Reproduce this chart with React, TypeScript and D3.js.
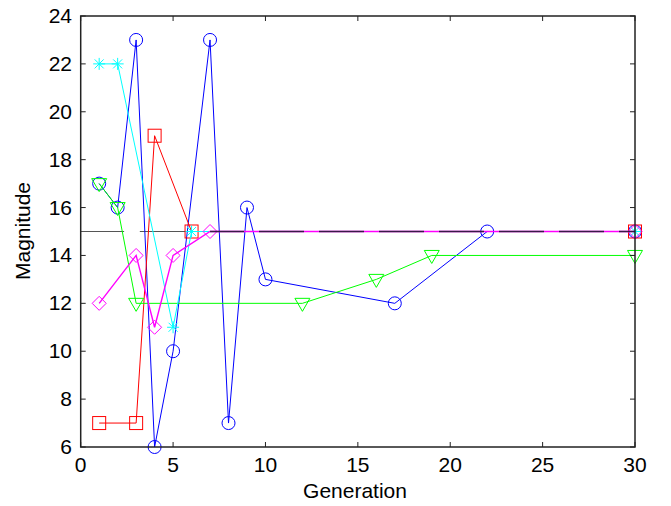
import React from "react";
import * as d3 from "d3";

const blueX = [1, 2, 3, 4, 5, 7, 8, 9, 10, 17, 22, 30];
const blueY = [17, 16, 23, 6, 10, 23, 7, 16, 13, 12, 15, 15];
const redX = [1, 3, 4, 6, 30];
const redY = [7, 7, 19, 15, 15];
const cyanX = [1, 2, 5, 6, 30];
const cyanY = [22, 22, 11, 15, 15];
const magX = [1, 3, 4, 5, 7, 30];
const magY = [12, 14, 11, 14, 15, 15];
const greenX = [1, 2, 3, 12, 16, 19, 30];
const greenY = [17, 16, 12, 12, 13, 14, 14];
const refY = 15;
const xTicks = [0, 5, 10, 15, 20, 25, 30];
const yTicks = [6, 8, 10, 12, 14, 16, 18, 20, 22, 24];

const W = 671, H = 506;
const L = 80.7, R = 635, T = 16, B = 447;

export default function App() {
  const x = d3.scaleLinear().domain([0, 30]).range([L, R]);
  const y = d3.scaleLinear().domain([6, 24]).range([B, T]);
  const line = d3.line<[number, number]>().x(d => x(d[0])).y(d => y(d[1]));
  const pts = (xs: number[], ys: number[]) => xs.map((v, i) => [v, ys[i]] as [number, number]);

  const blue = pts(blueX, blueY);
  const red = pts(redX, redY);
  const cyan = pts(cyanX, cyanY);
  const mag = pts(magX, magY);
  const green = pts(greenX, greenY);

  const font = "Liberation Sans, Arial, sans-serif";
  const fs = 21;
  const s = 6.5;
  const dashOff = 45 - ((304 - x(7)) % 60);

  return (
    <svg width={W} height={H} style={{ position: "absolute", left: 0, top: 0, background: "#fff" }}>
      <rect x={0} y={0} width={W} height={H} fill="#fff" />
      {/* reference line */}
      <line x1={x(0)} x2={x(2.35)} y1={y(refY)} y2={y(refY)} stroke="#555" strokeWidth={1.2} />
      <line x1={x(3.2)} x2={x(30)} y1={y(refY)} y2={y(refY)} stroke="#555" strokeWidth={1.2} />

      {/* blue */}
      <path d={line(blue) || ""} fill="none" stroke="#0000ff" strokeWidth={1} />
      {blue.map((p, i) => (
        <circle key={"b" + i} cx={x(p[0])} cy={y(p[1])} r={s} fill="none" stroke="#0000ff" strokeWidth={1} />
      ))}
      {/* red */}
      <path d={line(red) || ""} fill="none" stroke="#ff0000" strokeWidth={1} />
      {red.map((p, i) => (
        <rect key={"r" + i} x={x(p[0]) - s} y={y(p[1]) - s} width={2 * s} height={2 * s} fill="none" stroke="#ff0000" strokeWidth={1} />
      ))}
      {/* green */}
      <path d={line(green) || ""} fill="none" stroke="#00ff00" strokeWidth={1} />
      {green.map((p, i) => {
        const cx = x(p[0]), cy = y(p[1]);
        return (
          <path key={"g" + i} d={`M${cx - 7.5},${cy - 5} L${cx + 7.5},${cy - 5} L${cx},${cy + 8} Z`} fill="none" stroke="#00ff00" strokeWidth={1} />
        );
      })}
      {/* cyan */}
      <path d={line(cyan) || ""} fill="none" stroke="#00ffff" strokeWidth={1} />
      {cyan.map((p, i) => {
        const cx = x(p[0]), cy = y(p[1]);
        const a = 6, b = 4.5;
        return (
          <path key={"c" + i} d={`M${cx - a},${cy} L${cx + a},${cy} M${cx},${cy - a} L${cx},${cy + a} M${cx - b},${cy - b} L${cx + b},${cy + b} M${cx - b},${cy + b} L${cx + b},${cy - b}`} fill="none" stroke="#00ffff" strokeWidth={1} />
        );
      })}
      {/* magenta */}
      <path d={line(mag) || ""} fill="none" stroke="#ff00ff" strokeWidth={1.4} />
      {mag.map((p, i) => {
        const cx = x(p[0]), cy = y(p[1]);
        const a = 7;
        return (
          <path key={"m" + i} d={`M${cx},${cy - a} L${cx + a},${cy} L${cx},${cy + a} L${cx - a},${cy} Z`} fill="none" stroke="#ff00ff" strokeWidth={1} />
        );
      })}
      {/* dark overlay on shared level */}
      <line x1={x(7)} x2={x(30)} y1={y(refY)} y2={y(refY)} stroke="#3a1848" strokeWidth={1.4} strokeDasharray="45 15" strokeDashoffset={dashOff} />

      {/* axes box */}
      <rect x={L} y={T} width={R - L} height={B - T} fill="none" stroke="#222" strokeWidth={1.5} />
      {xTicks.map(t => (
        <g key={"xt" + t}>
          <line x1={x(t)} x2={x(t)} y1={B} y2={B - 5} stroke="#222" strokeWidth={1} />
          <line x1={x(t)} x2={x(t)} y1={T} y2={T + 5} stroke="#222" strokeWidth={1} />
          <text x={x(t)} y={472} textAnchor="middle" fontFamily={font} fontSize={fs} fill="#000">{t}</text>
        </g>
      ))}
      {yTicks.map(t => (
        <g key={"yt" + t}>
          <line x1={L} x2={L + 5} y1={y(t)} y2={y(t)} stroke="#222" strokeWidth={1} />
          <line x1={R} x2={R - 5} y1={y(t)} y2={y(t)} stroke="#222" strokeWidth={1} />
          <text x={72} y={y(t) + 7} textAnchor="end" fontFamily={font} fontSize={fs} fill="#000">{t}</text>
        </g>
      ))}
      <text x={355} y={498} textAnchor="middle" fontFamily={font} fontSize={fs} fill="#000">Generation</text>
      <text transform={`translate(30,${231}) rotate(-90)`} textAnchor="middle" fontFamily={font} fontSize={fs} fill="#000">Magnitude</text>
    </svg>
  );
}
